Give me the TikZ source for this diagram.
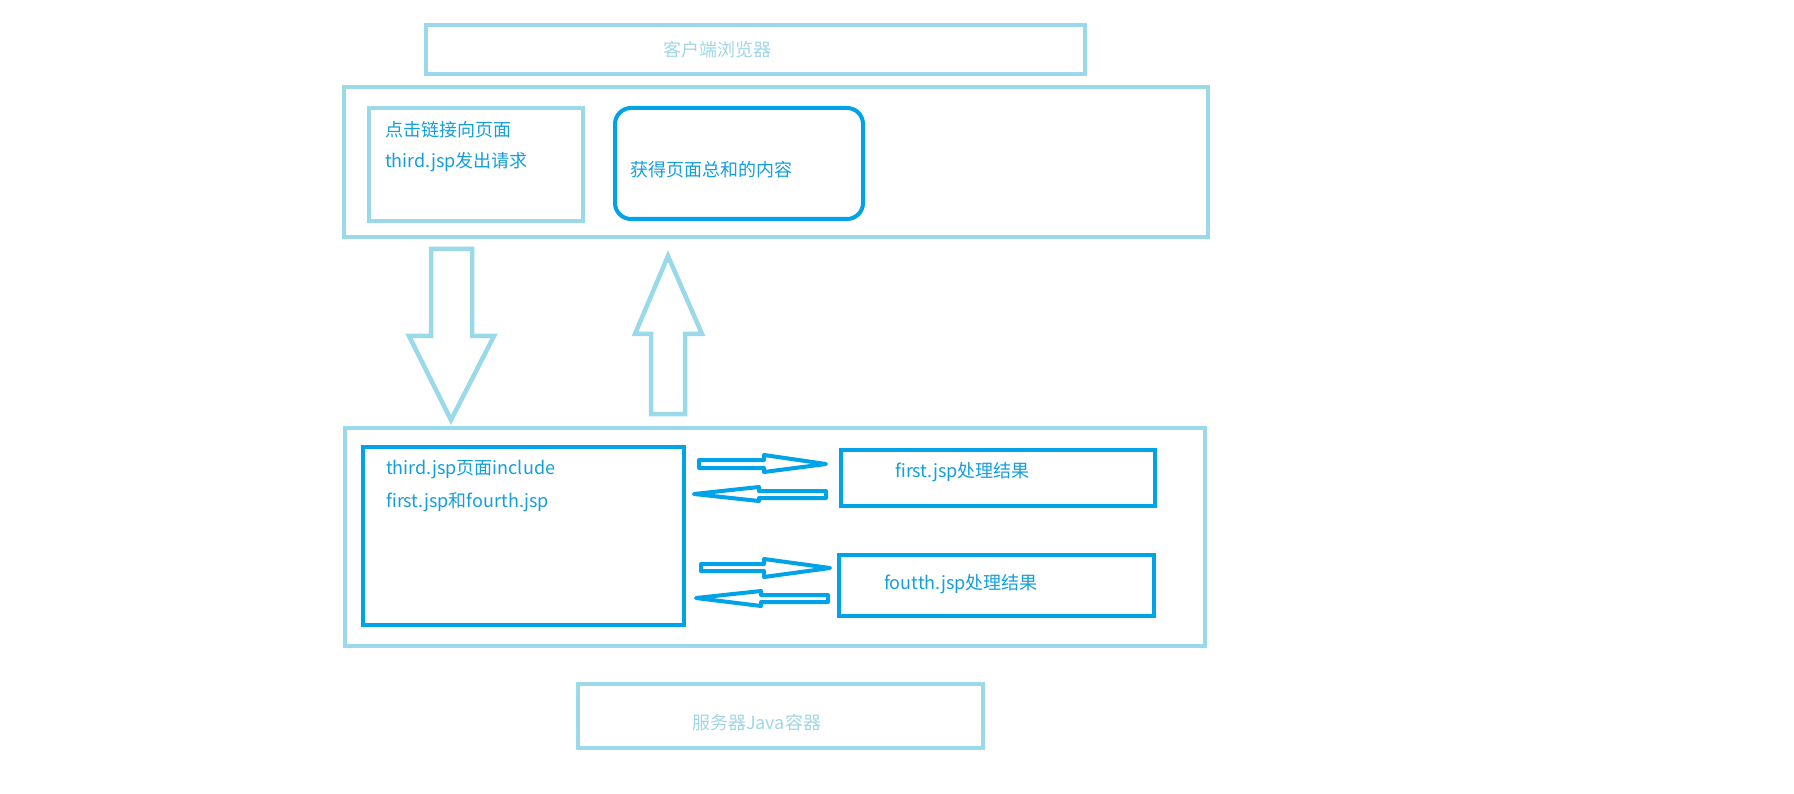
\documentclass[tikz,border=0pt]{standalone}
\usepackage{fontspec}
\setmainfont{Noto Sans CJK SC}
\definecolor{lightln}{RGB}{153,217,234}
\definecolor{darkln}{RGB}{0,162,232}
\definecolor{lighttx}{RGB}{160,214,230}
\definecolor{darktx}{RGB}{20,158,220}
\tikzset{
  lbox/.style={draw=lightln, line width=4.5pt, rectangle, inner sep=0pt, outer sep=0pt, anchor=north west},
  dbox/.style={draw=darkln, line width=4pt, rectangle, inner sep=0pt, outer sep=0pt, anchor=north west},
  lbig/.style={draw=lightln, line width=4.5pt, line join=miter},
  dsmall/.style={draw=darkln, line width=4pt, line join=round},
  dtxt/.style={text=darktx, inner sep=0pt, anchor=west, font=\fontsize{18pt}{22pt}\selectfont},
  ltxt/.style={text=lighttx, inner sep=0pt, font=\fontsize{18pt}{22pt}\selectfont},
}
\begin{document}
\begin{tikzpicture}[x=1pt,y=-1pt]
\useasboundingbox (0,0) rectangle (1794,794);
% boxes
\node[lbox, minimum width=659pt, minimum height=49pt] (client) at (426,25) {};
\node[lbox, minimum width=864pt, minimum height=150pt] (browser) at (344,87) {};
\node[lbox, minimum width=214pt, minimum height=113pt] (req) at (369,108) {};
\node[dbox, rounded corners=16pt, minimum width=248pt, minimum height=111pt] (got) at (615,108) {};
\node[lbox, minimum width=860pt, minimum height=218pt] (server) at (345,428) {};
\node[dbox, minimum width=321pt, minimum height=178pt] (incl) at (363,447) {};
\node[dbox, minimum width=314pt, minimum height=56pt] (first) at (841,450) {};
\node[dbox, minimum width=315pt, minimum height=61pt] (fourth) at (839,555) {};
\node[lbox, minimum width=405pt, minimum height=64pt] (container) at (578,684) {};
% texts
\node[ltxt] (tclient) at (717,50) {客户端浏览器};
\node[dtxt] (treq1) at (385,130) {点击链接向页面};
\node[dtxt] (treq2) at (385,162) {third.jsp发出请求};
\node[dtxt] (tgot) at (630,170) {获得页面总和的内容};
\node[dtxt] (tincl1) at (386,470) {third.jsp页面include};
\node[dtxt] (tincl2) at (386,502) {first.jsp和fourth.jsp};
\node[dtxt] (tfirst) at (895,472) {first.jsp处理结果};
\node[dtxt] (tfourth) at (884,584) {foutth.jsp处理结果};
\node[ltxt, anchor=west] (tcont) at (692,723) {服务器Java容器};
% big block arrows
\draw[lbig] (431,249) -- (472,249) -- (472,336) -- (494,336) -- (451,420) -- (409,336) -- (431,336) -- cycle;
\draw[lbig] (651,414) -- (685,414) -- (685,334) -- (702,334) -- (668,256) -- (635,334) -- (651,334) -- cycle;
% small block arrows
\draw[dsmall] (699,460) -- (764,460) -- (764,455) -- (826,464) -- (764,472) -- (764,468) -- (699,468) -- cycle;
\draw[dsmall] (826,491) -- (759,491) -- (759,487) -- (694,494) -- (759,501) -- (759,498) -- (826,498) -- cycle;
\draw[dsmall] (701,564) -- (764,564) -- (764,559) -- (830,568) -- (764,577) -- (764,571) -- (701,571) -- cycle;
\draw[dsmall] (828,595) -- (761,595) -- (761,591) -- (696,598) -- (761,606) -- (761,602) -- (828,602) -- cycle;
\end{tikzpicture}
\end{document}
